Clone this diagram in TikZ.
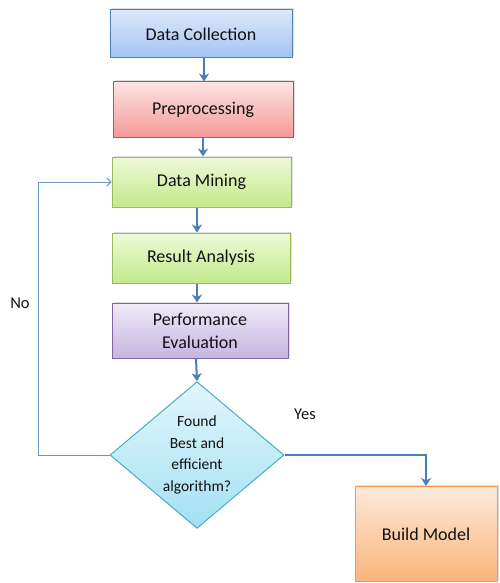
\documentclass[tikz,border=0pt]{standalone}
\usepackage{fontspec}
\setmainfont{Carlito}
\usetikzlibrary{arrows.meta,shapes.geometric,shadows}
\definecolor{blueT}{HTML}{DCE8FB}\definecolor{blueB}{HTML}{A3C3F3}\definecolor{blueD}{HTML}{4F81BD}
\definecolor{redT}{HTML}{FDE3E3}\definecolor{redB}{HTML}{F39A99}\definecolor{redD}{HTML}{C0504D}
\definecolor{grnT}{HTML}{EEF9D8}\definecolor{grnB}{HTML}{C3E98A}\definecolor{grnD}{HTML}{9BBB59}
\definecolor{purT}{HTML}{EFEAF7}\definecolor{purB}{HTML}{C5B5E0}\definecolor{purD}{HTML}{8064A2}
\definecolor{cyaT}{HTML}{E2F6FC}\definecolor{cyaB}{HTML}{A3E0F4}\definecolor{cyaD}{HTML}{4BACC6}
\definecolor{orgT}{HTML}{FDEADB}\definecolor{orgB}{HTML}{F9B47A}\definecolor{orgD}{HTML}{F79646}
\definecolor{arr}{HTML}{4A7EBB}
\definecolor{txt}{HTML}{111111}
\tikzset{
  box/.style={rectangle, draw, line width=1pt, align=center, text=txt, font=\fontsize{18}{23}\selectfont,
    drop shadow={shadow xshift=1.5pt, shadow yshift=1.5pt, opacity=0.25}},
  bluebox/.style={box, draw=blueD, top color=blueT, bottom color=blueB},
  redbox/.style={box, draw=redD, top color=redT, bottom color=redB},
  grnbox/.style={box, draw=grnD, top color=grnT, bottom color=grnB},
  purbox/.style={box, draw=purD, top color=purT, bottom color=purB},
  orgbox/.style={box, draw=orgD, top color=orgT, bottom color=orgB},
  decision/.style={diamond, draw=cyaD, line width=1pt, top color=cyaT, bottom color=cyaB, inner sep=0pt,
    align=center, text=txt, font=\fontsize{15.5}{21.7}\selectfont},
  flow/.style={draw=arr, line width=2pt, -{Stealth[length=8pt,width=10pt,inset=2.5pt]}},
  noflow/.style={draw=arr!80!white, line width=1pt, -{Straight Barb[length=4pt,width=8pt]}},
  lbl/.style={text=txt, font=\fontsize{16.5}{19}\selectfont}
}
\begin{document}
\begin{tikzpicture}[x=1pt,y=-1pt]
\useasboundingbox (0,0) rectangle (500,583);
\node[bluebox, minimum width=182pt, minimum height=48pt] (dc) at (201,34) {Data Collection};
\node[redbox, minimum width=180pt, minimum height=55pt] (pp) at (203,109.5) {Preprocessing};
\node[grnbox, minimum width=179pt, minimum height=50pt] (dm) at (201.5,182) {Data Mining};
\node[grnbox, minimum width=178pt, minimum height=50pt] (ra) at (201,258) {Result Analysis};
\node[purbox, minimum width=176pt, minimum height=55pt] (pe) at (200,330.5) {Performance\\Evaluation};
\node[decision, minimum width=174pt, minimum height=145pt] (dia) at (197,455) {Found\\Best and\\efficient\\algorithm?};
\node[orgbox, minimum width=142pt, minimum height=95pt] (bm) at (426,534) {Build Model};
\coordinate (nocorner) at (38,455);
\draw[flow] (dc.south -| 204,0) -- (pp.north -| 204,0);
\draw[flow] (pp.south -| 203,0) -- (dm.north -| 203,0);
\draw[flow] (dm.south -| 197,0) -- (ra.north -| 197,0);
\draw[flow] (ra.south -| 197,0) -- (pe.north -| 197,0);
\draw[flow] (pe.south -| 196,0) -- (dia.north);
\draw[flow] (dia.east) -| (bm.north);
\draw[noflow] (dia.west) -- (nocorner) |- (dm.west);
\node[lbl] (no) at (20,303) {No};
\node[lbl] (yes) at (305,414) {Yes};
\end{tikzpicture}
\end{document}
